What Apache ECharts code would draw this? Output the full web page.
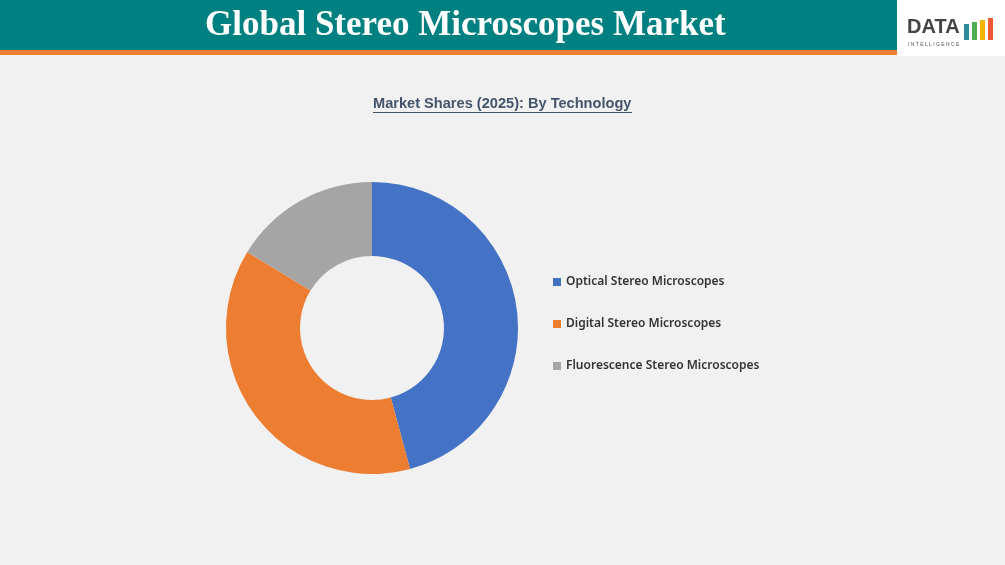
<!DOCTYPE html>
<html><head><meta charset="utf-8">
<script src="https://cdn.jsdelivr.net/npm/echarts@6/dist/echarts.min.js"></script>
<style>html,body{margin:0;padding:0;background:#f1f1f1;}#c{width:1005px;height:565px;}</style>
</head><body><div id="c"></div>
<script>
const categories = ["Optical Stereo Microscopes","Digital Stereo Microscopes","Fluorescence Stereo Microscopes"];
const values = [45.8, 37.9, 16.3];
const colors = ["#4472c4","#ed7d31","#a5a5a5"];
const chart = echarts.init(document.getElementById('c'));
chart.setOption({
  backgroundColor:'#f1f1f1',
  graphic:[
    {type:'rect',shape:{x:0,y:0,width:897,height:50},style:{fill:'#008080'}},
    {type:'rect',shape:{x:0,y:50,width:897,height:5},style:{fill:'#ed7d31'}},
    {type:'rect',shape:{x:897,y:0,width:108,height:56},style:{fill:'#ffffff'}},
    {type:'text',left:205,top:8,style:{text:'Global Stereo Microscopes Market',fill:'#fff',font:'bold 35px "Liberation Serif", serif'}},
    {type:'text',left:907,top:17,style:{text:'DATA',fill:'#444',font:'bold 20px "Liberation Sans", sans-serif'}},
    {type:'rect',shape:{x:964,y:24,width:5,height:16},style:{fill:'#2e8b9a'}},
    {type:'rect',shape:{x:972,y:22,width:5,height:18},style:{fill:'#4caf50'}},
    {type:'rect',shape:{x:980,y:20,width:5,height:20},style:{fill:'#f5b400'}},
    {type:'rect',shape:{x:988,y:18,width:5,height:22},style:{fill:'#ed5a31'}},
    {type:'text',left:908,top:42,style:{text:'I N T E L L I G E N C E',fill:'#555',font:'5px sans-serif'}},
    {type:'text',left:373,top:96,style:{text:'Market Shares (2025): By Technology',fill:'#44546a',font:'bold 14.6px "Liberation Sans", Arial'}},
    {type:'rect',shape:{x:373,y:112,width:259,height:1},style:{fill:'#44546a'}}
  ],
  legend:{orient:'vertical',left:548,top:271,itemWidth:8,itemHeight:8,itemGap:30,icon:'rect',
    textStyle:{fontFamily:'"Noto Sans", sans-serif',fontWeight:600,fontSize:12,color:'#333'},data:categories},
  series:[{type:'pie',center:[372,328],radius:[72,146],startAngle:90,clockwise:true,
    label:{show:false},labelLine:{show:false},silent:true,
    data:categories.map((n,i)=>({name:n,value:values[i],itemStyle:{color:colors[i]}}))}]
});
</script></body></html>
